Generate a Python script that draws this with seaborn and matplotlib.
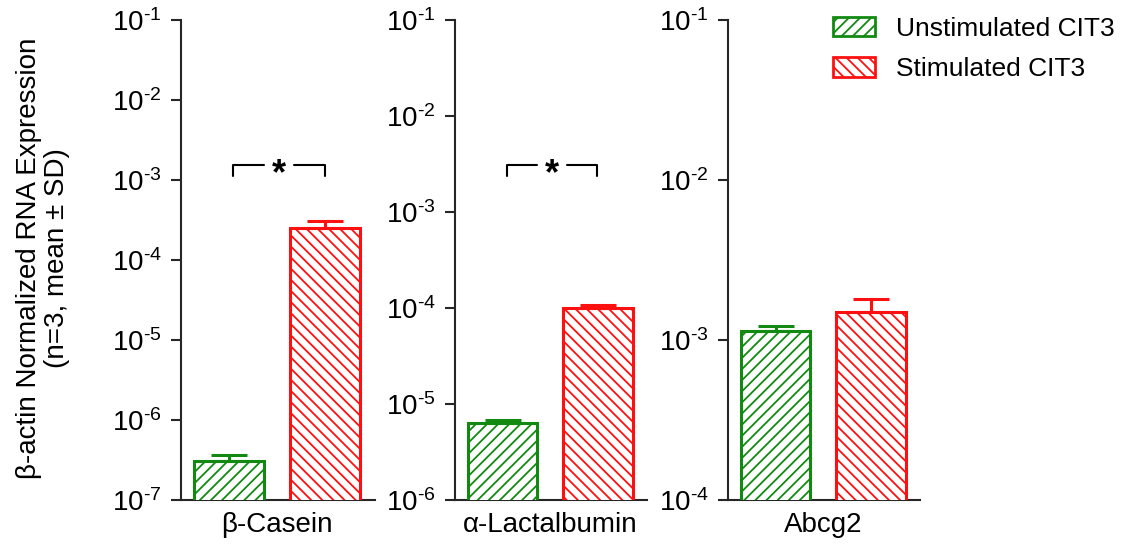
import numpy as np
import pandas as pd
import matplotlib
matplotlib.use("Agg")
import matplotlib.pyplot as plt
import seaborn as sns
from matplotlib.patches import Patch
from matplotlib.ticker import NullLocator

# ---------------- data ----------------
genes = ["β-Casein", "α-Lactalbumin", "Abcg2"]
conditions = ["Unstimulated CIT3", "Stimulated CIT3"]
unstim_mean = [3.05e-7, 6.3e-6, 1.14e-3]
unstim_sd = [0.6e-7, 0.45e-6, 0.08e-3]
stim_mean = [2.5e-4, 1.0e-4, 1.50e-3]
stim_sd = [0.57e-4, 0.07e-4, 0.30e-3]
y_min_exp = [-7, -6, -4]
y_max_exp = -1
significant = [True, True, False]

# ---------------- style ----------------
sns.set_style("ticks")
plt.rcParams["font.family"] = ["Liberation Sans", "DejaVu Sans"]
plt.rcParams["mathtext.default"] = "regular"
plt.rcParams["hatch.linewidth"] = 1.3
for key in ["text.color", "axes.labelcolor", "xtick.color", "ytick.color"]:
    plt.rcParams[key] = "black"

colors = {"Unstimulated CIT3": "#128a12", "Stimulated CIT3": "#ff1010"}
hatches = {"Unstimulated CIT3": "///", "Stimulated CIT3": "\\\\\\"}
FS = 20
spine_c = "#262626"

fig = plt.figure(figsize=(11.32, 5.45), dpi=100)
W, H = 1132, 545
ax_px = [(181, 375), (455, 647), (728, 920)]
top_px, bot_px = 20, 500

for i, gene in enumerate(genes):
    l, r = ax_px[i]
    ax = fig.add_axes([l / W, 1 - bot_px / H, (r - l) / W, (bot_px - top_px) / H])
    df = pd.DataFrame({
        "condition": conditions,
        "value": [unstim_mean[i], stim_mean[i]],
    })
    sd = [unstim_sd[i], stim_sd[i]]
    sns.barplot(data=df, x="condition", y="value", hue="condition",
                order=conditions, hue_order=conditions,
                palette=colors, width=0.735, errorbar=None,
                legend=False, ax=ax, zorder=3)
    ax.set_yscale("log")
    bar_conts = list(ax.containers)
    for k, cont in enumerate(bar_conts):
        cond = conditions[k]
        for p in cont:
            p.set_facecolor("white")
            p.set_edgecolor(colors[cond])
            p.set_hatch(hatches[cond])
            p.set_linewidth(2.2)
        ax.errorbar([k], [df["value"][k]], yerr=[[0], [sd[k]]], fmt="none",
                    ecolor=colors[cond], elinewidth=2.2, capsize=13,
                    capthick=2.2, zorder=4)
    ax.set_xlim(-0.5, 1.52)
    ax.set_ylim(10.0 ** y_min_exp[i], 10.0 ** y_max_exp)
    exps = list(range(y_min_exp[i], y_max_exp + 1))
    ax.set_yticks([10.0 ** e for e in exps])
    ax.set_yticklabels(["$\\mathregular{10^{\u2010%d}}$" % abs(e) for e in exps])
    ax.yaxis.set_minor_locator(NullLocator())
    ax.set_xticks([0.5])
    ax.set_xticklabels([gene])
    ax.tick_params(axis="x", length=0, pad=9, labelsize=FS)
    ax.tick_params(axis="y", length=7, width=1.5, pad=7, labelsize=FS,
                   color=spine_c, direction="out")
    ax.set_xlabel("")
    ax.set_ylabel("")
    for s in ["top", "right"]:
        ax.spines[s].set_visible(False)
    for s in ["left", "bottom"]:
        ax.spines[s].set_color(spine_c)
        ax.spines[s].set_linewidth(1.5)

    if significant[i]:
        tr = ax.get_xaxis_transform()
        c, half, gap = 0.52, 0.475, 0.16
        yt, yb = 0.698, 0.675
        ax.plot([c - half, c - half, c - gap], [yb, yt, yt], color="black",
                lw=1.5, transform=tr, clip_on=False)
        ax.plot([c + gap, c + half, c + half], [yt, yt, yb], color="black",
                lw=1.5, transform=tr, clip_on=False)
        ax.text(c, 0.678, "*", transform=tr, ha="center", va="center",
                fontsize=26, fontweight="bold")

fig.text(43 / W, 1 - 258 / H,
         "β-actin Normalized RNA Expression\n(n=3, mean ± SD)",
         rotation=90, ha="center", va="center", multialignment="center",
         fontsize=FS, linespacing=1.05)

handles = [Patch(facecolor="white", edgecolor=colors[c], hatch=hatches[c],
                 linewidth=2.0) for c in conditions]
fig.legend(handles, conditions, loc="upper left",
           bbox_to_anchor=(833 / W, 1 - 17 / H), frameon=False,
           borderpad=0, borderaxespad=0, handlelength=1.6, handleheight=0.75,
           handletextpad=0.8, labelspacing=0.62, fontsize=19)

fig.savefig("out.png", dpi=100)
